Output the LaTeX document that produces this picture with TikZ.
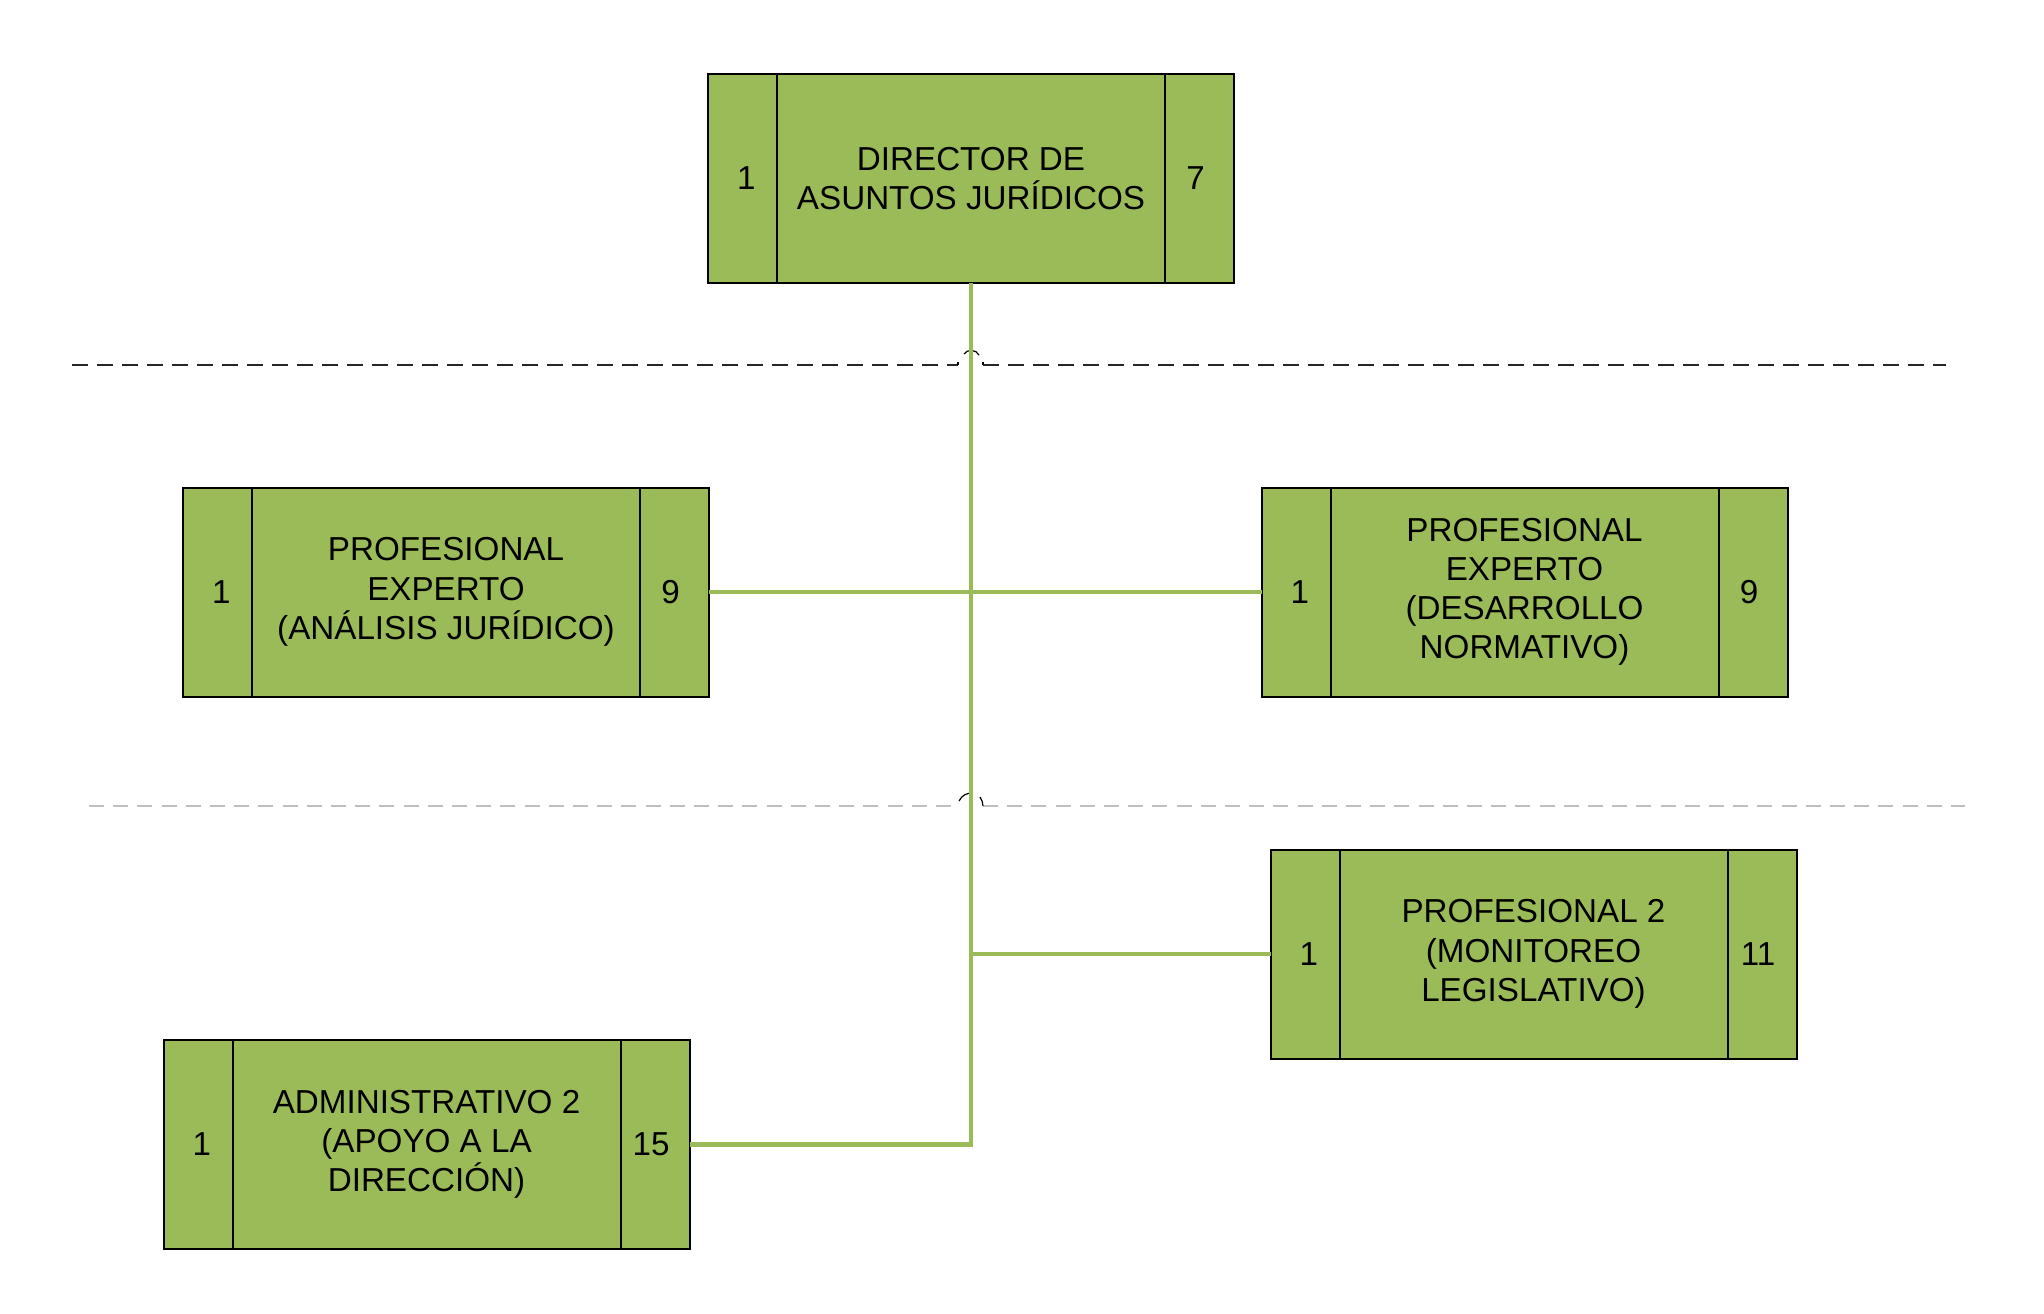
\documentclass[tikz,border=0pt]{standalone}
\usepackage{fontspec}
\setmainfont{Liberation Sans}
\definecolor{boxgreen}{HTML}{9BBB59}
\definecolor{linegreen}{HTML}{9BBB59}
\definecolor{sepdark}{HTML}{262626}
\definecolor{seplight}{HTML}{BFBFBF}
\tikzset{
  obox/.style={draw=black, line width=1pt, fill=boxgreen, minimum width=263pt, minimum height=104.5pt, inner sep=0pt, outer sep=0pt},
  divline/.style={draw=black, line width=1pt},
  numtxt/.style={font=\fontsize{16.6}{19.6}\selectfont, inner sep=0pt, text=black},
  maintxt/.style={font=\fontsize{16.6}{19.6}\selectfont, align=center, inner sep=0pt, text=black},
  conn/.style={draw=linegreen, line width=2.3pt},
  sepA/.style={draw=sepdark, line width=0.55pt, dash pattern=on 8pt off 4.5pt},
  sepB/.style={draw=seplight, line width=0.55pt, dash pattern=on 7.5pt off 4.6pt},
  hop/.style={draw=black, line width=0.6pt}
}
\newcommand\orgbox[6]{%
  \node[obox] (#1) at (#2,#3) {};
  \draw[divline] ([xshift=34.5pt]#1.north west) -- ([xshift=34.5pt]#1.south west);
  \draw[divline] ([xshift=-34.5pt]#1.north east) -- ([xshift=-34.5pt]#1.south east);
  \node[numtxt] (#1-l) at ([xshift=19.2pt]#1.west) {#5};
  \node[numtxt] (#1-r) at ([xshift=-19.2pt]#1.east) {#6};
  \node[maintxt] (#1-t) at (#1.center) {#4};
}
\begin{document}
\begin{tikzpicture}[x=0.5pt, y=-0.5pt]
\useasboundingbox[fill=white] (0,0) rectangle (2044,1313);
% separators
\draw[sepA] (72,365) -- (958,365);
\draw[sepA] (983,365) -- (1946,365);
\draw[hop] (958,365) -- (958,362);
\draw[hop] (983,365) -- (983,362);
\draw[hop] (964,354) .. controls (967,349) and (976,349) .. (979,355);
\draw[sepB] (89,806) -- (954,806);
\draw[sepB] (983,806) -- (1965,806);
\draw[hop] (959,801) .. controls (962,795) and (967,793) .. (972,793);
\draw[hop] (980,797) .. controls (982,800) and (983,803) .. (983,806);
% boxes
\orgbox{dir}{971}{178.5}{DIRECTOR DE\\ASUNTOS JURÍDICOS}{1}{7}
\orgbox{pea}{446}{592}{PROFESIONAL\\EXPERTO\\(ANÁLISIS JURÍDICO)}{1}{9}
\orgbox{ped}{1524.5}{592}{PROFESIONAL\\EXPERTO\\(DESARROLLO\\NORMATIVO)}{1}{9}
\orgbox{pml}{1533.5}{954}{PROFESIONAL 2\\(MONITOREO\\LEGISLATIVO)}{1}{11}
\orgbox{adm}{426.5}{1144.5}{ADMINISTRATIVO 2\\(APOYO A LA\\DIRECCIÓN)}{1}{15}
% connectors
\draw[conn] (dir.south) -- (dir.south |- adm.east) -- (adm.east);
\draw[conn] (pea.east) -- (ped.west);
\draw[conn] (pml.west) -- (pml.west -| dir.south);
\end{tikzpicture}
\end{document}
